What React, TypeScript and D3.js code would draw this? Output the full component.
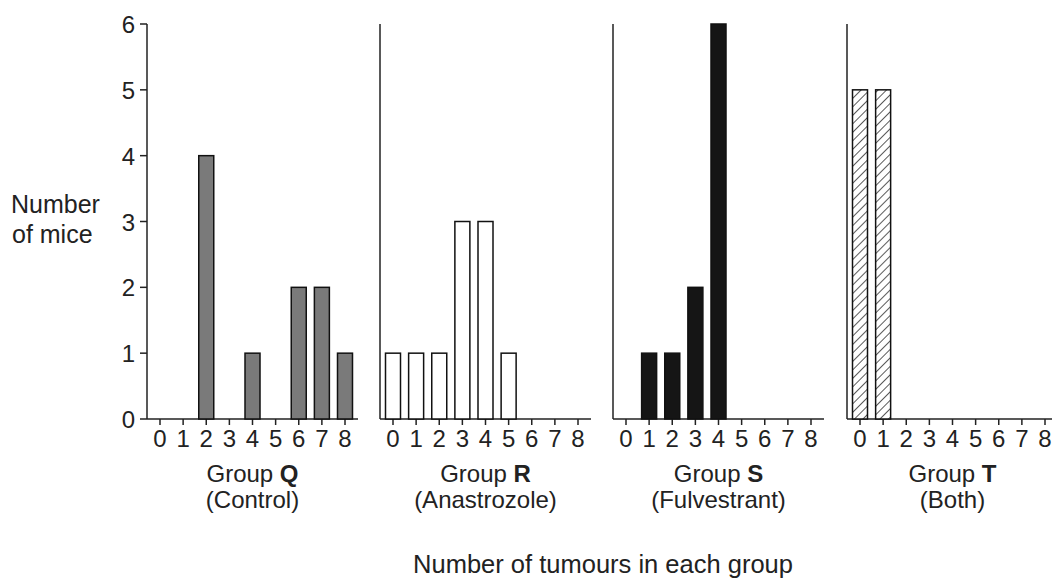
import React from "react";
import * as d3 from "d3";

const categories = [0, 1, 2, 3, 4, 5, 6, 7, 8];
const groupNames = ["Q", "R", "S", "T"];
const groupSubtitles = ["(Control)", "(Anastrozole)", "(Fulvestrant)", "(Both)"];
const valuesQ = [0, 0, 4, 0, 1, 0, 2, 2, 1];
const valuesR = [1, 1, 1, 3, 3, 1, 0, 0, 0];
const valuesS = [0, 1, 1, 2, 6, 0, 0, 0, 0];
const valuesT = [5, 5, 0, 0, 0, 0, 0, 0, 0];
const yTicks = [0, 1, 2, 3, 4, 5, 6];
const yLabel = ["Number", "of mice"];
const xTitle = "Number of tumours in each group";

const W = 1052;
const H = 583;
const FONT = "'Liberation Sans', Arial, sans-serif";

export default function App() {
  const series = [valuesQ, valuesR, valuesS, valuesT];
  const y = d3.scaleLinear().domain([0, 6]).range([419, 24]);
  const panelAxis = [147, 380, 613, 847];
  const fills = ["#7a7a7a", "#ffffff", "#151515", "url(#hatch)"];
  const barW = 15;

  return (
    <svg width={W} height={H} style={{ position: "absolute", left: 0, top: 0, background: "#fff" }}>
      <defs>
        <pattern id="hatch" patternUnits="userSpaceOnUse" width="6" height="6" patternTransform="rotate(45)">
          <rect width="6" height="6" fill="#fff" />
          <line x1="0" y1="0" x2="0" y2="6" stroke="#222" strokeWidth="1.5" />
        </pattern>
      </defs>
      {yTicks.map((t) => (
        <g key={t}>
          <line x1={140} x2={147} y1={y(t)} y2={y(t)} stroke="#222" strokeWidth={1.5} />
          <text x={135} y={y(t) + 9} textAnchor="end" fontFamily={FONT} fontSize={24} fill="#222">
            {t}
          </text>
        </g>
      ))}
      <text fontFamily={FONT} fontSize={25} fill="#222">
        <tspan x={11} y={213}>{yLabel[0]}</tspan>
        <tspan x={12} y={243}>{yLabel[1]}</tspan>
      </text>
      {series.map((vals, gi) => {
        const ax = panelAxis[gi];
        const x = d3.scalePoint<number>().domain(categories).range([ax + 13, ax + 198]);
        const cx = (ax + 13 + ax + 198) / 2;
        return (
          <g key={gi}>
            <line x1={ax} x2={ax} y1={y(6)} y2={y(0)} stroke="#222" strokeWidth={1.5} />
            <line x1={ax} x2={ax + 211} y1={y(0)} y2={y(0)} stroke="#222" strokeWidth={1.5} />
            {categories.map((c, i) => (
              <g key={c}>
                <line x1={x(c)!} x2={x(c)!} y1={y(0)} y2={y(0) + 6} stroke="#222" strokeWidth={1.5} />
                <text x={x(c)!} y={447} textAnchor="middle" fontFamily={FONT} fontSize={24} fill="#222">
                  {c}
                </text>
                {vals[i] > 0 && (
                  <rect
                    x={x(c)! - barW / 2}
                    y={y(vals[i])}
                    width={barW}
                    height={y(0) - y(vals[i])}
                    fill={fills[gi]}
                    stroke="#111"
                    strokeWidth={1.5}
                  />
                )}
              </g>
            ))}
            <text x={cx} y={482} textAnchor="middle" fontFamily={FONT} fontSize={24} fill="#222">
              Group <tspan fontWeight="bold">{groupNames[gi]}</tspan>
            </text>
            <text x={cx} y={508} textAnchor="middle" fontFamily={FONT} fontSize={24} fill="#222">
              {groupSubtitles[gi]}
            </text>
          </g>
        );
      })}
      <text x={603} y={573} textAnchor="middle" fontFamily={FONT} fontSize={25.5} fill="#222">
        {xTitle}
      </text>
    </svg>
  );
}
